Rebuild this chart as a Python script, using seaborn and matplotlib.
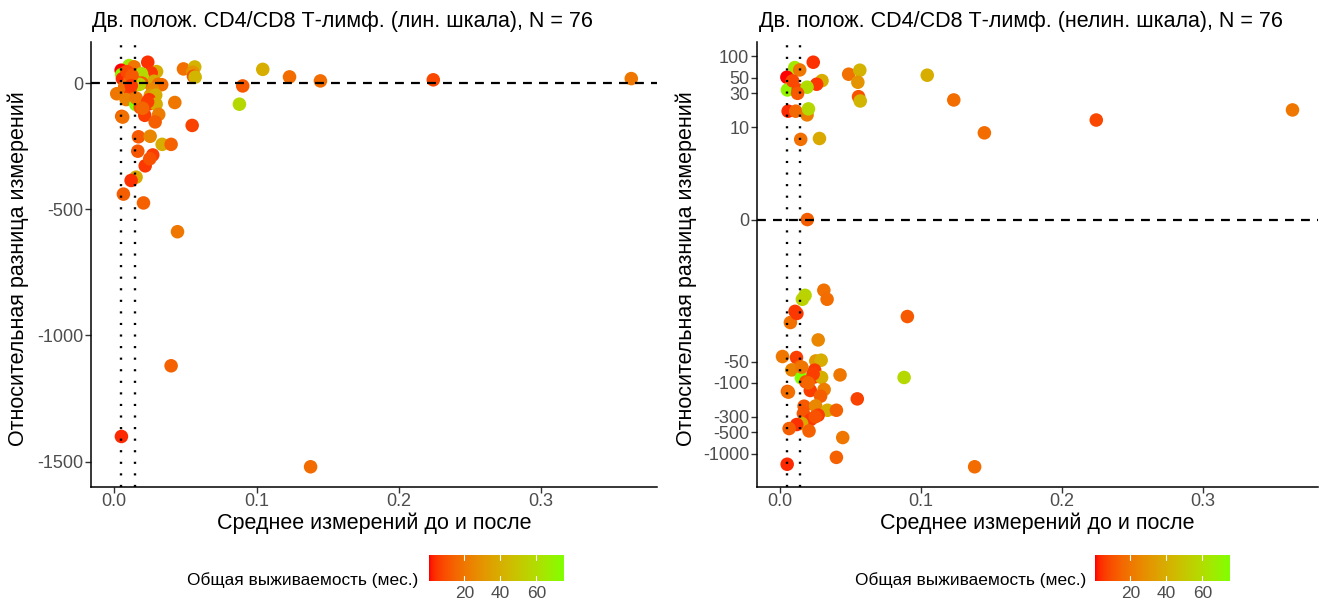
import numpy as np
import pandas as pd
import matplotlib
matplotlib.use("Agg")
import matplotlib.pyplot as plt
import seaborn as sns
from matplotlib.colors import ListedColormap, Normalize
from matplotlib.ticker import FixedLocator, FixedFormatter, NullLocator
from matplotlib.cm import ScalarMappable

# Mean of the two measurements (before / after)
mean_value = [
    0.0236, 0.0105, 0.0140, 0.0049, 0.0084, 0.0298, 0.0260, 0.0053, 0.0129, 0.0192,
    0.0487, 0.0566, 0.0552, 0.0557, 0.0569, 0.1044, 0.1232, 0.0058, 0.0112, 0.0192,
    0.0202, 0.0147, 0.0280, 0.0194, 0.1449, 0.2242, 0.3633, 0.1380,
    0.0311, 0.0178, 0.0159, 0.0334, 0.0107, 0.0903, 0.0074, 0.0271, 0.0018, 0.0117,
    0.0140, 0.0254, 0.0292, 0.0084, 0.0246, 0.0246, 0.0295, 0.0152, 0.0426, 0.0880,
    0.0183, 0.0053, 0.0313, 0.0215, 0.0288, 0.0548, 0.0171, 0.0253, 0.0337, 0.0400,
    0.0166, 0.0271, 0.0218, 0.0154, 0.0119, 0.0065, 0.0206, 0.0445, 0.0400, 0.0051,
    0.0090, 0.0125, 0.0155, 0.0235, 0.0120, 0.0200, 0.0250, 0.0060,
]

# Relative difference of the measurements, %
rel_diff = [
    82.3, 69.1, 64.1, 50.6, 43.8, 45.3, 40.3, 33.5, 33.5, 36.6,
    55.8, 63.5, 43.0, 26.9, 23.4, 54.0, 24.2, 16.8, 16.8, 14.9,
    18.1, 6.7, 6.9, 0.0, 8.3, 12.6, 17.5, -1520.0,
    -4.9, -5.8, -6.6, -6.6, -9.8, -11.6, -14.1, -24.8, -42.5, -43.9,
    -59.5, -49.0, -47.9, -65.6, -66.2, -82.3, -83.9, -85.0, -77.2, -83.9,
    -96.8, -132.0, -124.0, -128.0, -154.0, -168.0, -213.0, -211.0, -243.0, -243.0,
    -270.0, -285.0, -328.0, -373.0, -386.0, -440.0, -475.0, -589.0, -1120.0, -1400.0,
    45.0, 30.0, -60.0, -75.0, -10.5, -100.0, -300.0, -135.0,
]

# Overall survival, months
survival = [
    4, 65, 20, 0.3, 6, 40, 5, 70, 7, 60,
    18, 42, 30, 10, 43, 40, 17, 3, 16, 22,
    58, 18, 38, 13, 17, 8, 20, 17,
    18, 57, 55, 17, 5, 12, 18, 25, 20, 6,
    14, 32, 40, 24, 5, 6, 40, 75.4, 20, 58,
    10, 13, 22, 6, 13, 7, 12, 26, 40, 14,
    11, 6, 5, 38, 4, 13, 14, 20, 14, 3,
    8, 12, 20, 6, 5, 15, 10, 18,
]

x_ticks = [0.0, 0.1, 0.2, 0.3]
x_tick_labels = ["0.0", "0.1", "0.2", "0.3"]
lin_ticks = [0, -500, -1000, -1500]
lin_tick_labels = ["0", "-500", "-1000", "-1500"]
nonlin_ticks = [100, 50, 30, 10, 0, -50, -100, -300, -500, -1000]
nonlin_tick_labels = ["100", "50", "30", "10", "0", "-50", "-100", "-300", "-500", "-1000"]
threshold_lines = [0.0050, 0.0145]
cbar_ticks = [20, 40, 60]

titles = [
    "Дв. полож. CD4/CD8 Т-лимф. (лин. шкала), N = 76",
    "Дв. полож. CD4/CD8 Т-лимф. (нелин. шкала), N = 76",
]
x_label = "Среднее измерений до и после"
y_label = "Относительная разница измерений"
legend_title = "Общая выживаемость (мес.)"

df = pd.DataFrame({"mean": mean_value, "diff": rel_diff, "os": survival})


# ---- red -> chartreuse gradient interpolated in CIELAB ----
def srgb_to_lab(rgb):
    c = np.asarray(rgb, float)
    lin = np.where(c <= 0.04045, c / 12.92, ((c + 0.055) / 1.055) ** 2.4)
    M = np.array([[0.4124564, 0.3575761, 0.1804375],
                  [0.2126729, 0.7151522, 0.0721750],
                  [0.0193339, 0.1191920, 0.9503041]])
    xyz = M @ lin / np.array([0.95047, 1.0, 1.08883])
    d = 6 / 29
    f = np.where(xyz > d ** 3, np.cbrt(xyz), xyz / (3 * d * d) + 4 / 29)
    return np.array([116 * f[1] - 16, 500 * (f[0] - f[1]), 200 * (f[1] - f[2])])


def lab_to_srgb(lab):
    L, a, b = lab
    fy = (L + 16) / 116
    fx = fy + a / 500
    fz = fy - b / 200
    d = 6 / 29
    f = np.array([fx, fy, fz])
    xyz = np.where(f > d, f ** 3, 3 * d * d * (f - 4 / 29)) * np.array([0.95047, 1.0, 1.08883])
    Minv = np.array([[3.2404542, -1.5371385, -0.4985314],
                     [-0.9692660, 1.8760108, 0.0415560],
                     [0.0556434, -0.2040259, 1.0572252]])
    lin = np.clip(Minv @ xyz, 0, 1)
    c = np.where(lin <= 0.0031308, 12.92 * lin, 1.055 * lin ** (1 / 2.4) - 0.055)
    return np.clip(c, 0, 1)


lab_lo = srgb_to_lab([1.0, 0.0, 0.0])
lab_hi = srgb_to_lab([127 / 255, 1.0, 0.0])
cmap = ListedColormap([lab_to_srgb(lab_lo + (lab_hi - lab_lo) * t) for t in np.linspace(0, 1, 256)])
norm = Normalize(vmin=min(survival), vmax=max(survival))

# ---- figure ----
sns.set_theme(style="white")
plt.rcParams["font.family"] = ["Liberation Sans", "DejaVu Sans"]

W, H = 1320, 603
fig = plt.figure(figsize=(W / 100, H / 100), dpi=100)


def fbox(x0, y0, x1, y1):
    return [x0 / W, 1 - y1 / H, (x1 - x0) / W, (y1 - y0) / H]


ax_lin = fig.add_axes(fbox(91, 42, 657, 487))
ax_nl = fig.add_axes(fbox(757, 42, 1318, 487))

tick_grey = "#4D4D4D"


def expand(lo, hi, frac=0.05):
    r = hi - lo
    return lo - frac * r, hi + frac * r


xlim = expand(min(mean_value), max(mean_value))

for ax in (ax_lin, ax_nl):
    sns.scatterplot(data=df, x="mean", y="diff", hue="os", palette=cmap, hue_norm=norm,
                    s=95, linewidth=0, legend=False, ax=ax, zorder=2)
    ax.axhline(0, color="black", lw=1.6, ls=(0, (4, 3.2)), zorder=3)
    for xv in threshold_lines:
        ax.axvline(xv, color="black", lw=1.7, ls=(0, (0.9, 4.0)), zorder=3)
    ax.set_xlim(*xlim)
    ax.xaxis.set_major_locator(FixedLocator(x_ticks))
    ax.xaxis.set_major_formatter(FixedFormatter(x_tick_labels))
    for side in ("top", "right"):
        ax.spines[side].set_visible(False)
    for side in ("left", "bottom"):
        ax.spines[side].set_color("black")
        ax.spines[side].set_linewidth(1.1)
    ax.tick_params(axis="both", which="major", direction="out", length=4, width=1.0,
                   color="#333333", labelcolor=tick_grey, labelsize=13, pad=1.5,
                   bottom=True, left=True)
    ax.tick_params(axis="x", pad=0.5)
    ax.set_xlabel(x_label, fontsize=15.5, color="black")
    ax.set_ylabel(y_label, fontsize=15.5, color="black")
    ax.xaxis.set_label_coords(0.5, -0.082)
    ax.xaxis.label.set_va("center")
    ax.yaxis.label.set_va("center")
    ax.set_facecolor("white")

# linear panel
ax_lin.set_ylim(*expand(min(rel_diff), max(rel_diff)))
ax_lin.yaxis.set_major_locator(FixedLocator(lin_ticks))
ax_lin.yaxis.set_major_formatter(FixedFormatter(lin_tick_labels))
ax_lin.yaxis.set_label_coords(-0.129, 0.49)

# nonlinear (asinh) panel
ax_nl.set_yscale("asinh", linear_width=1)
t_lo, t_hi = expand(np.arcsinh(min(rel_diff)), np.arcsinh(max(rel_diff)))
ax_nl.set_ylim(np.sinh(t_lo), np.sinh(t_hi))
ax_nl.yaxis.set_major_locator(FixedLocator(nonlin_ticks))
ax_nl.yaxis.set_major_formatter(FixedFormatter(nonlin_tick_labels))
ax_nl.yaxis.set_minor_locator(NullLocator())
ax_nl.yaxis.set_label_coords(-0.127, 0.49)

# titles
fig.text(92 / W, 1 - 22 / H, titles[0], fontsize=15.5, ha="left", va="center", color="black")
fig.text(759 / W, 1 - 22 / H, titles[1], fontsize=15.5, ha="left", va="center", color="black")

# colour bars
for bx, tx in ((429, 418), (1095, 1086)):
    cax = fig.add_axes(fbox(bx, 555, bx + 135, 581))
    cb = fig.colorbar(ScalarMappable(norm=norm, cmap=cmap), cax=cax, orientation="horizontal")
    cb.outline.set_visible(False)
    cb.set_ticks(cbar_ticks)
    cb.set_ticklabels([str(v) for v in cbar_ticks])
    cax.tick_params(axis="x", length=0, labelsize=12.5, labelcolor=tick_grey, pad=3.5)
    for v in cbar_ticks:
        cax.plot([v, v], [0, 0.2], color="white", lw=0.8)
        cax.plot([v, v], [0.8, 1], color="white", lw=0.8)
    fig.text(tx / W, 1 - 580 / H, legend_title, fontsize=12.4, ha="right", va="center",
             color="black")

fig.savefig("out.png", dpi=100, facecolor="white")
